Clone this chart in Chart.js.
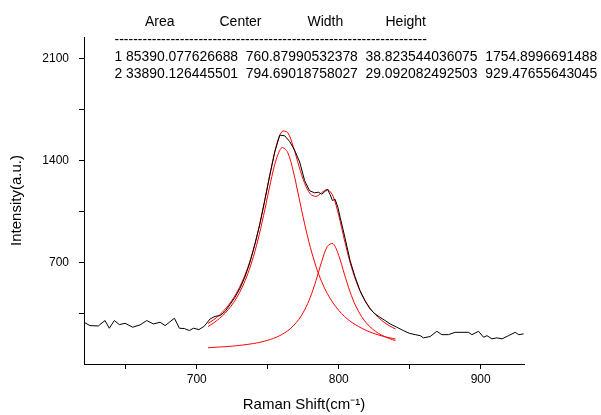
<!DOCTYPE html>
<html><head><meta charset="utf-8">
<script src="https://cdn.jsdelivr.net/npm/chart.js@4.4.1/dist/chart.umd.min.js"></script>
<style>html,body{margin:0;padding:0;background:#fff}canvas{display:block}</style>
</head><body>
<canvas id="c" width="601" height="415"></canvas>
<script>
// Measured spectrum (black)
const rawX = [620.6,624.8,630.7,635.4,638.4,642.0,645.5,649.5,654.9,660.1,664.8,669.4,674.2,677.7,680.7,684.3,687.8,691.3,694.8,697.6,701.6,705.2,
  709.4,712.9,716.4,720.0,723.5,727.0,730.5,734.0,737.5,741.0,744.5,748.0,751.5,755.0,758.5,762.0,765.5,769.0,772.5,776.0,779.5,783.0,785.7,788.1,
  790.4,792.3,793.9,795.6,797.5,799.4,801.0,804.5,808.0,811.5,815.0,818.5,822.0,825.5,829.0,832.5,836.2,840.9,845.5,849.8,853.9,857.4,859.7,864.4,
  869.1,872.6,877.3,882.0,886.8,891.4,893.8,898.5,902.0,904.4,907.9,911.4,915.0,919.6,924.3,926.7,930.2];
const rawY = [287,264,262,299,246,299,271,280,253,269,299,276,287,264,287,315,246,244,230,246,237,259,
  310,328,333,362,410,460,522,600,700,825,965,1130,1300,1460,1575,1570,1530,1470,1390,1262,1192,1178,1182,1168,
  1189,1200,1166,1125,1133,1078,1010,865,712,600,505,435,380,345,322,300,276,253,230,211,202,195,180,189,
  225,202,202,218,218,218,202,225,184,195,173,180,173,195,218,202,207];
// Fitted curves (red)
const fitX = [708,712,716,720,724,728,732,736,740,744,748,752,756,760,764,768,772,776,780,784,788,792,796,800,804,808,812,816,820,824,828,832,836,840];
const fitSum = [279,305,337,377,426,488,566,665,790,946,1130,1327,1501,1600,1593,1496,1362,1243,1170,1153,1179,1201,1155,1023,854,699,576,482,413,360,319,287,261,241];
const fitPeak1 = [258,283,313,350,396,454,528,622,741,889,1064,1250,1409,1489,1457,1326,1146,964,803,671,566,484,420,369,328,295,269,247,228,213,200,189,180,172];
const fitPeak2 = [112,114,117,119,122,126,130,135,141,148,158,169,184,203,228,262,308,372,459,574,704,809,828,747,618,496,399,328,276,239,211,190,174,161];
// Ticks
const xMajorTicks = [700, 800, 900];
const xMinorTicks = [650, 750, 850];
const yMajorTicks = [700, 1400, 2100];
const yMinorTicks = [350, 1050, 1750];
// Fit result table
const tableHeaders = ['Area', 'Center', 'Width', 'Height'];
const tableRowIds = ['1', '2'];
const tableRow1 = ['85390.077626688', '760.87990532378', '38.823544036075', '1754.8996691488'];
const tableRow2 = ['33890.126445501', '794.69018758027', '29.092082492503', '929.47655643045'];

const FAM = "'Liberation Sans', Arial, sans-serif";
Chart.defaults.color = '#000';

const pts = (xs, ys) => xs.map((x, i) => ({x: x, y: ys[i]}));

const tablePlugin = {
  id: 'fitTable',
  afterDraw(chart) {
    const ctx = chart.ctx;
    ctx.save();
    ctx.fillStyle = '#000';
    ctx.textBaseline = 'middle';
    ctx.textAlign = 'left';
    ctx.font = '14px ' + FAM;
    const headerX = [145, 219.5, 307.5, 385.5];
    tableHeaders.forEach((h, i) => ctx.fillText(h, headerX[i], 22));
    ctx.fillText('-'.repeat(67), 114.5, 40);
    ctx.font = '13.9px ' + FAM;
    [tableRow1, tableRow2].forEach((row, r) => {
      const line = tableRowIds[r] + ' ' + row.join('  ');
      ctx.fillText(line, 114.5, 57 + r * 17);
    });
    ctx.restore();
  }
};

new Chart(document.getElementById('c'), {
  type: 'line',
  data: {
    datasets: [
      {label: 'Data', data: pts(rawX, rawY), borderColor: '#000', borderWidth: 1, pointRadius: 0, tension: 0},
      {label: 'Cumulative Fit', data: pts(fitX, fitSum), borderColor: '#ff0000', borderWidth: 1, pointRadius: 0, tension: 0.3},
      {label: 'Peak 1', data: pts(fitX, fitPeak1), borderColor: '#ff0000', borderWidth: 1, pointRadius: 0, tension: 0.3},
      {label: 'Peak 2', data: pts(fitX, fitPeak2), borderColor: '#ff0000', borderWidth: 1, pointRadius: 0, tension: 0.3}
    ]
  },
  plugins: [tablePlugin],
  options: {
    responsive: false,
    animation: false,
    devicePixelRatio: 1,
    layout: {padding: {left: 0, right: 77, top: 37, bottom: 0}},
    plugins: {legend: {display: false}, tooltip: {enabled: false}},
    scales: {
      x: {
        type: 'linear', min: 620.6, max: 930.5,
        afterBuildTicks: s => { s.ticks = xMinorTicks.concat(xMajorTicks).sort((a, b) => a - b).map(v => ({value: v})); },
        afterFit: s => { s.height = 51; },
        ticks: {autoSkip: false, maxRotation: 0, padding: 3, color: '#000', font: {family: FAM, size: 12},
          callback: v => xMajorTicks.includes(v) ? String(v) : ''},
        grid: {drawOnChartArea: false, drawTicks: true, tickLength: 5, tickColor: '#000', tickWidth: 1},
        border: {display: true, color: '#000', width: 1},
        title: {display: true, text: 'Raman Shift(cm⁻¹)', color: '#000', font: {family: FAM, size: 15}, padding: {top: 0, bottom: 1}}
      },
      y: {
        type: 'linear', min: 0, max: 2250,
        afterBuildTicks: s => { s.ticks = yMinorTicks.concat(yMajorTicks).sort((a, b) => a - b).map(v => ({value: v})); },
        afterFit: s => { s.width = 84; },
        ticks: {autoSkip: false, padding: 10, color: '#000', font: {family: FAM, size: 12},
          callback: v => yMajorTicks.includes(v) ? String(v) : ''},
        grid: {drawOnChartArea: false, drawTicks: true, tickLength: 5, tickColor: '#000', tickWidth: 1},
        border: {display: true, color: '#000', width: 1},
        title: {display: true, text: 'Intensity(a.u.)', color: '#000', font: {family: FAM, size: 15}, padding: {top: 8, bottom: 0}}
      }
    }
  }
});
</script>
</body></html>
